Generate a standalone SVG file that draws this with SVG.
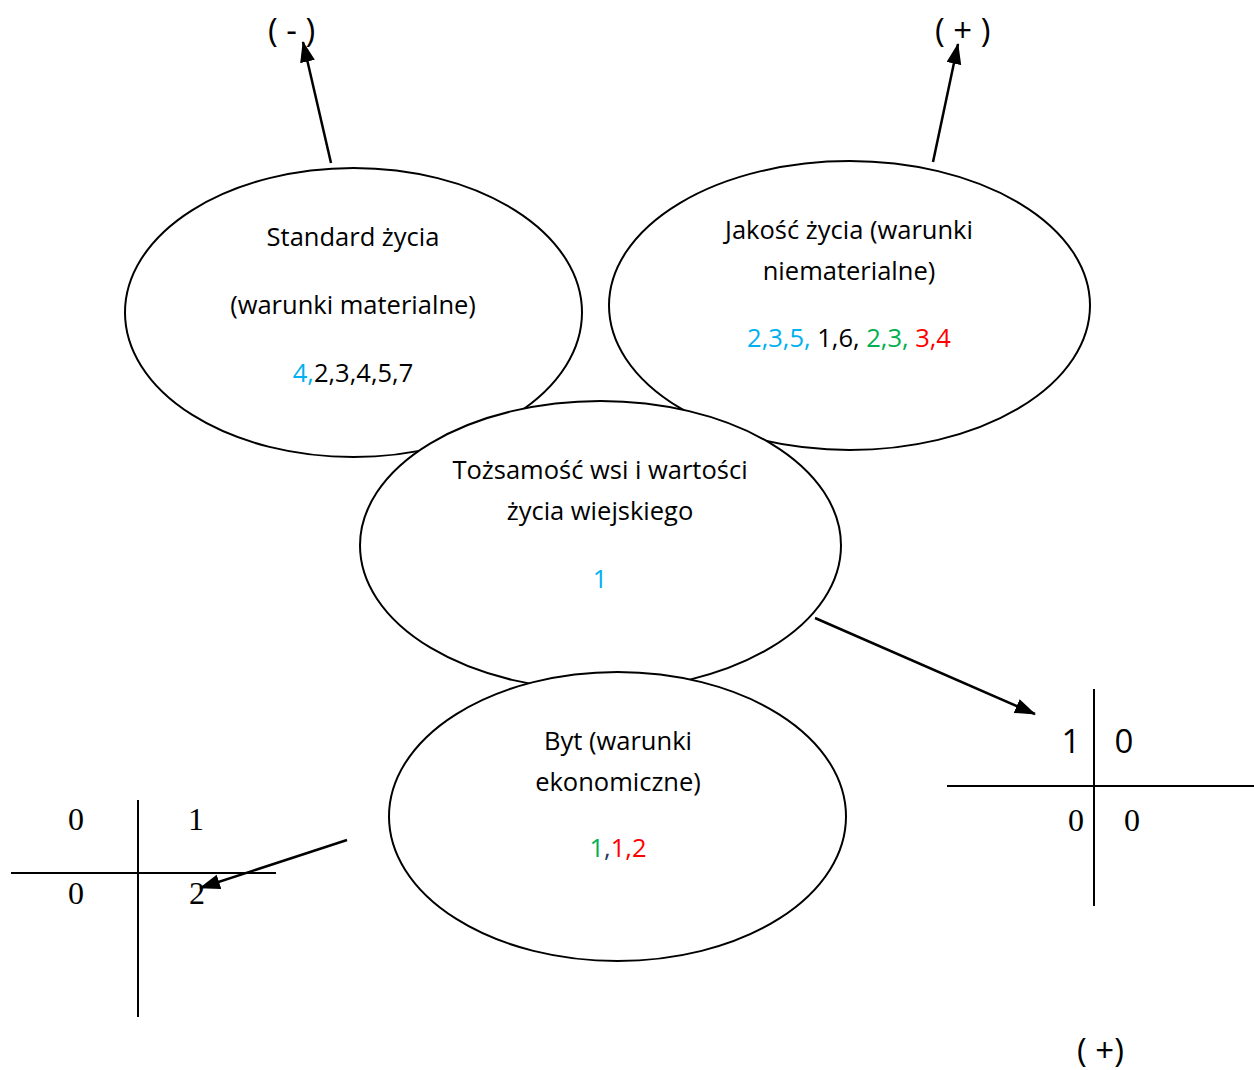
<svg xmlns="http://www.w3.org/2000/svg" width="1254" height="1070" viewBox="0 0 1254 1070">
<style>
.el{fill:#fff;stroke:#000;stroke-width:2}
.t{font-family:"Open Sans","Liberation Sans",sans-serif;font-size:25.5px;fill:#000;text-anchor:middle}
.big{font-family:"Open Sans","Liberation Sans",sans-serif;font-size:33px;fill:#000}
.ser{font-family:"Liberation Serif","Times New Roman",serif;font-size:32px;fill:#000;text-anchor:middle}
.ln{stroke:#000;stroke-width:2}
.ar{stroke:#000;stroke-width:2.5;fill:none;marker-end:url(#ah)}
.b{fill:#00B0F0}.g{fill:#00B050}.r{fill:#FF0000}.k{fill:#000}.nv{fill:#1F3864}
</style>
<defs>
<marker id="ah" markerUnits="userSpaceOnUse" markerWidth="22" markerHeight="16" refX="20" refY="7.5" orient="auto">
<path d="M0,0 L21,7.5 L0,15 z" fill="#000"/>
</marker>
</defs>
<g id="node-standard">
<ellipse class="el" cx="353.5" cy="312.5" rx="228.5" ry="144.5"/>
<text class="t" x="353" y="246">Standard życia</text>
<text class="t" x="353" y="314">(warunki materialne)</text>
<text class="t" x="353" y="382"><tspan class="b">4,</tspan><tspan class="k">2,3,4,5,7</tspan></text>
</g>
<g id="node-jakosc">
<ellipse class="el" cx="849.5" cy="305.5" rx="240.5" ry="144.5"/>
<text class="t" x="849" y="239">Jakość życia (warunki</text>
<text class="t" x="849" y="280">niematerialne)</text>
<text class="t" x="849" y="347"><tspan class="b">2,3,5, </tspan><tspan class="k">1,6, </tspan><tspan class="g">2,3, </tspan><tspan class="r">3,4</tspan></text>
</g>
<g id="node-tozsamosc">
<ellipse class="el" cx="600.5" cy="545.5" rx="240.5" ry="144.5"/>
<text class="t" x="600" y="479">Tożsamość wsi i wartości</text>
<text class="t" x="600" y="520">życia wiejskiego</text>
<text class="t b" x="600" y="588">1</text>
</g>
<g id="node-byt">
<ellipse class="el" cx="617.5" cy="816.5" rx="228.5" ry="144.5"/>
<text class="t" x="618" y="750">Byt (warunki</text>
<text class="t" x="618" y="791">ekonomiczne)</text>
<text class="t" x="618" y="857"><tspan class="g">1</tspan><tspan class="nv">,</tspan><tspan class="r">1,2</tspan></text>
</g>
<g id="labels">
<text class="big" x="268" y="42">( - )</text>
<text class="big" x="935" y="42">( + )</text>
<text class="big" x="1077" y="1062">( +)</text>
</g>
<g id="table-left">
<line class="ln" x1="11" y1="873" x2="276" y2="873"/>
<line class="ln" x1="138" y1="800" x2="138" y2="1017"/>
<text class="ser" x="76" y="830">0</text>
<text class="ser" x="196" y="830">1</text>
<text class="ser" x="76" y="904">0</text>
<text class="ser" x="197" y="904">2</text>
</g>
<g id="table-right">
<line class="ln" x1="947" y1="786" x2="1254" y2="786"/>
<line class="ln" x1="1094" y1="689" x2="1094" y2="906"/>
<text class="big" x="1071" y="753" text-anchor="middle">1</text>
<text class="big" x="1124" y="753" text-anchor="middle">0</text>
<text class="ser" x="1076" y="831">0</text>
<text class="ser" x="1132" y="831">0</text>
</g>
<g id="connectors">
<line class="ar" x1="331" y1="163" x2="303" y2="42"/>
<line class="ar" x1="933" y1="162" x2="958" y2="44"/>
<line class="ar" x1="815" y1="618" x2="1035" y2="714"/>
<line class="ar" x1="347" y1="840" x2="200" y2="888"/>
</g>
</svg>
